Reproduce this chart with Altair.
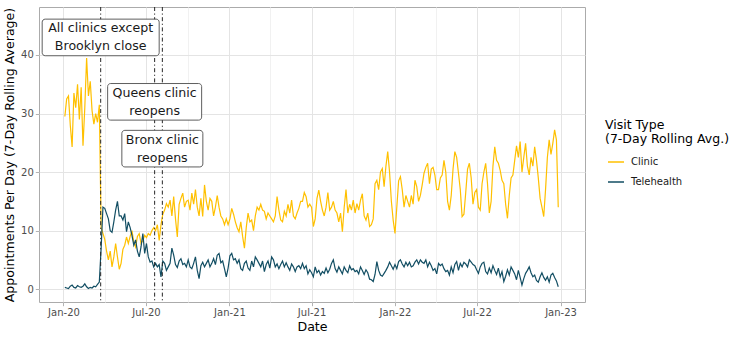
import altair as alt
import pandas as pd

# ---------------- data ----------------
start_date = "2020-01-04"
step_days = 4
series_names = ["Clinic", "Telehealth"]
series_colors = ["#FFC000", "#124E63"]

clinic = [
    29.5, 32.5, 33.0, 28.0, 24.3, 33.5, 31.0, 35.0, 29.0, 34.5, 24.5, 31.0, 39.5, 33.0, 35.5, 30.5, 28.2, 30.0, 28.5, 31.5,
    10.5, 9.5, 8.5, 6.5, 5.0, 6.5, 3.8, 5.5, 7.8, 5.5, 3.4, 4.4, 6.8, 7.5, 8.9, 7.8, 9.0, 10.0, 8.0, 7.2, 9.0, 9.5, 7.8, 8.3,
    9.2, 8.8, 9.5, 9.2, 10.0, 10.5, 10.0, 11.0, 8.3, 11.0, 12.8, 13.5,
    14.6, 14.0, 15.2, 12.5, 15.8, 12.0, 8.9, 14.5, 15.5, 16.4,
    14.0, 15.0, 15.2, 13.5, 16.4, 14.5, 17.0, 14.0, 12.5, 15.5, 12.4, 17.8, 15.0, 13.5, 15.5, 15.0, 12.5, 14.0, 16.0, 14.0,
    12.5, 12.0, 11.0, 12.0, 11.0, 12.0, 13.8, 12.8, 11.5, 10.5, 9.8, 11.5, 9.0, 7.0,
    10.5, 13.0, 11.5, 11.8, 10.0, 12.5, 14.0, 13.5, 14.5, 13.5, 13.3, 12.0, 13.0, 12.5, 12.0, 11.5, 12.5, 15.8, 13.5, 11.8,
    11.5, 13.3, 12.5, 14.5, 13.0, 15.2, 12.5, 12.0, 13.0, 13.8, 15.0, 15.0, 16.5, 15.8, 14.0, 14.5, 14.0, 10.7, 12.0,
    15.5, 16.9, 15.0, 13.5, 12.5, 14.0, 16.5, 13.5, 14.0, 15.0, 13.5, 13.0, 11.5, 13.0, 9.8, 14.0, 17.0, 13.0, 14.5, 13.5,
    15.2, 13.0, 14.6, 13.5, 15.2, 16.3, 12.5, 11.8, 13.0,
    10.7, 11.0, 12.0, 18.0, 18.6, 17.0, 20.0, 20.6, 17.5, 21.0, 23.5, 20.0, 15.0, 11.8, 9.5, 14.0, 18.5, 19.2, 17.0, 14.0,
    16.0, 15.0, 14.0, 16.0, 14.5, 18.6, 17.5, 15.0, 16.0, 17.8, 19.8, 20.8, 21.5, 18.0, 20.5, 20.8, 19.5, 17.0, 17.0,
    19.0, 19.5, 22.0, 20.0, 15.0, 13.5, 16.0, 20.5, 23.5, 22.5, 19.8, 17.0, 12.4, 12.8, 16.5, 20.5, 21.5, 19.0, 14.5, 16.5,
    17.0, 14.0, 13.5, 18.0, 20.0, 21.5, 18.0, 13.0, 15.0, 21.0, 24.3, 22.0, 21.5, 20.3, 18.6, 18.0, 14.5, 12.1, 16.0, 19.0,
    19.5, 22.0, 24.5, 22.5, 25.2, 20.0, 22.5, 24.9, 21.0, 19.5, 22.5, 21.0, 24.3, 22.0, 19.0, 15.5, 14.0, 12.4, 17.0, 22.5,
    25.5, 23.0, 24.9, 27.2, 25.5, 14.0,
]

telehealth = [
    0.3, 0.2, 0.1, 0.5, 0.7, 0.3, 0.2, 0.6, 0.4, 0.3, 0.5, 0.9, 0.4, 0.1, 0.3, 0.2, 0.5, 0.4, 0.8, 1.2,
    7.0, 14.0, 13.8, 12.9, 12.0, 10.0, 9.7, 11.5, 13.5, 15.0, 12.5, 12.5, 11.8, 12.9, 9.8, 11.5, 10.5, 9.2, 7.5, 8.4,
    6.5, 5.5, 7.2, 9.5, 6.1, 7.8, 5.5, 4.6, 4.8, 3.8, 4.4, 3.8, 4.2, 2.1, 4.8, 4.4, 3.2, 3.8, 4.4, 7.0, 5.8, 4.2, 3.7,
    4.8, 5.2, 4.2,
    4.4, 3.8, 5.0, 3.8, 3.5, 4.4, 5.5, 3.2, 1.8, 4.0, 4.6, 3.8, 4.4, 5.0, 3.8, 4.4, 5.2, 4.2, 5.8, 6.1, 4.5, 4.8, 3.5,
    2.1, 3.6, 5.7, 6.1, 5.0, 5.2, 4.4, 5.0, 3.5, 3.2, 4.4, 4.8, 3.6, 3.2, 4.8, 3.8, 5.5, 5.0, 4.4, 3.8, 4.8, 3.0, 4.2,
    4.8, 3.6, 5.5, 5.0, 3.8, 4.3, 3.5, 4.2, 4.8, 3.8, 4.5, 3.8, 3.2, 4.3, 3.8, 3.0, 3.8, 4.0, 3.5, 4.4, 3.5, 4.0, 2.6,
    3.3, 2.8, 2.1, 3.8,
    2.8, 3.2, 2.4, 3.0, 2.7, 3.6, 2.8, 3.4, 4.4, 5.0, 3.5, 2.9, 3.8, 3.2, 2.6, 3.8, 3.2, 2.8, 4.0, 3.3, 3.5, 3.0, 3.2,
    2.6, 3.8, 3.2, 2.5, 3.3, 2.8, 1.7, 1.6, 1.3, 2.5, 4.7, 3.2, 2.4, 2.2, 2.7, 3.2, 3.8, 4.6, 4.0, 3.4, 4.2, 3.5, 4.7,
    5.0, 4.3, 3.8, 4.6, 4.0, 4.6, 3.8, 4.0, 4.6, 5.0, 4.3, 5.0, 4.6, 4.4, 5.0, 3.8, 4.6, 4.0, 3.2, 3.5, 2.6, 4.4,
    4.0, 4.3, 3.5, 3.0, 3.2, 2.4, 3.8, 2.8, 4.2, 4.7, 3.2, 4.4, 3.8, 4.6, 4.3, 3.8, 5.0, 4.6, 4.2, 4.0, 3.3, 2.7, 3.8,
    4.4, 4.6, 3.0, 2.6, 3.6, 2.8, 4.0, 3.2, 2.5, 3.6, 2.1, 3.0, 1.3, 2.2, 3.3, 2.4, 3.8, 3.2, 2.6, 1.6, 3.2, 2.0, 0.7,
    1.8, 2.7, 3.2, 3.8, 2.8, 2.1, 2.4, 1.5, 1.2, 2.1, 2.8, 2.0, 1.5, 2.1, 1.2, 2.4, 2.7, 2.0, 1.4, 0.4,
]

event_dates = ["2020-03-23", "2020-07-20", "2020-08-06"]
event_labels = ["All clinics except\nBrooklyn close", "Queens clinic\nreopens", "Bronx clinic\nreopens"]
event_label_y = [43.0, 32.0, 24.0]

x_grid_dates = [
    "2020-01-01", "2020-04-01", "2020-07-01", "2020-10-01",
    "2021-01-01", "2021-04-01", "2021-07-01", "2021-10-01",
    "2022-01-01", "2022-04-01", "2022-07-01", "2022-10-01",
    "2023-01-01",
]
y_grid_values = [0, 5, 10, 15, 20, 25, 30, 35, 40, 45]

# ---------------- tables ----------------
rows = []
for name, vals in zip(series_names, [clinic, telehealth]):
    dates = pd.date_range(start_date, periods=len(vals), freq=f"{step_days}D").strftime("%Y-%m-%d")
    for d, v in zip(dates, vals):
        rows.append({"Date": d, "Value": v, "Visit Type": name})
df = pd.DataFrame(rows)

events = pd.DataFrame({"Date": event_dates, "Value": event_label_y, "Label": event_labels})


def dt(s):
    y, m, d = (int(p) for p in s.split("-"))
    return alt.DateTime(year=y, month=m, date=d, utc=True)


FONT = "DejaVu Sans"
major_x = "utcmonth(datum.value) % 6 === 0"
major_y = "datum.value % 10 === 0"
Y_TITLE = "Appointments Per Day (7-Day Rolling Average)"

x_scale = alt.Scale(type="utc", domain=[dt("2019-11-08"), dt("2023-02-24")])
y_scale = alt.Scale(domain=[-2.2, 48.2], nice=False, zero=False)

x_axis = alt.Axis(
    values=[dt(s) for s in x_grid_dates],
    labelExpr="utcmonth(datum.value) % 6 === 0 ? utcFormat(datum.value, '%b-%y') : ''",
    gridColor={"condition": {"test": major_x, "value": "#E4E4E4"}, "value": "#F1F1F1"},
    tickOpacity={"condition": {"test": major_x, "value": 1}, "value": 0},
    tickColor="#B3B3B3",
    tickSize=3.7,
    domain=False,
    labelPadding=2,
    labelColor="#4D4D4D",
    labelFontSize=10,
    labelFont=FONT,
    labelFlush=False,
    titleFont=FONT,
    titleFontSize=12.6,
    titleFontWeight="normal",
    titleColor="#000000",
    titlePadding=3,
)
y_axis = alt.Axis(
    values=y_grid_values,
    labelExpr="datum.value % 10 === 0 ? datum.label : ''",
    gridColor={"condition": {"test": major_y, "value": "#E4E4E4"}, "value": "#F1F1F1"},
    tickOpacity={"condition": {"test": major_y, "value": 1}, "value": 0},
    tickColor="#B3B3B3",
    tickSize=3.7,
    domain=False,
    labelPadding=2,
    labelColor="#4D4D4D",
    labelFontSize=10,
    labelFont=FONT,
    titleFont=FONT,
    titleFontSize=12.6,
    titleFontWeight="normal",
    titleColor="#000000",
    titlePadding=4,
)

lines = alt.Chart(df).mark_line(strokeWidth=1.2).encode(
    x=alt.X("Date:T", scale=x_scale, axis=x_axis, title="Date"),
    y=alt.Y("Value:Q", scale=y_scale, axis=y_axis, title=Y_TITLE),
    color=alt.Color(
        "Visit Type:N",
        scale=alt.Scale(domain=series_names, range=series_colors),
        legend=alt.Legend(
            title=["Visit Type", "(7-Day Rolling Avg.)"],
            orient="none",
            legendX=566,
            legendY=112,
            padding=0,
            symbolType="stroke",
            symbolSize=256,
            symbolStrokeWidth=1.5,
            symbolOffset=2,
            labelOffset=6,
            labelFont=FONT,
            labelFontSize=10,
            labelColor="#1A1A1A",
            titleFont=FONT,
            titleFontSize=12.5,
            titleFontWeight="normal",
            titleColor="#000000",
            titleLineHeight=13.5,
            titlePadding=8,
            rowPadding=6,
        ),
    ),
)

rules = alt.Chart(events).mark_rule(
    color="#262626", strokeWidth=1, strokeDash=[4, 2.5, 1.2, 2.5]
).encode(x=alt.X("Date:T", title="Date"))

box_half_widths = [58.5, 47, 40.5]
boxes = []
for i, hw in enumerate(box_half_widths):
    boxes.append(
        alt.Chart(events.iloc[[i]]).mark_rect(
            fill="#FFFFFF", fillOpacity=1, opacity=1,
            stroke="#4D4D4D", strokeWidth=0.9, cornerRadius=3,
            xOffset=-hw, x2Offset=hw, yOffset=-18.3, y2Offset=18.3,
        ).encode(
            x=alt.X("Date:T", title="Date"), x2="Date",
            y=alt.Y("Value:Q", title=Y_TITLE), y2="Value",
        )
    )

texts = alt.Chart(events).mark_text(
    lineBreak="\n", align="center", baseline="middle", font=FONT,
    fontSize=12.6, lineHeight=18, dy=-9, color="#1A1A1A",
).encode(
    x=alt.X("Date:T", title="Date"),
    y=alt.Y("Value:Q", title=Y_TITLE),
    text="Label:N",
)

chart = alt.layer(lines, rules, *boxes, texts).properties(
    width=546,
    height=295,
    padding={"left": 39, "top": 7, "right": 157, "bottom": 38},
    autosize=alt.AutoSizeParams(type="none"),
).configure(font=FONT).configure_view(stroke="#ABABAB", strokeWidth=1)

chart.save("out.html", embed_options={"renderer": "svg", "actions": False})
